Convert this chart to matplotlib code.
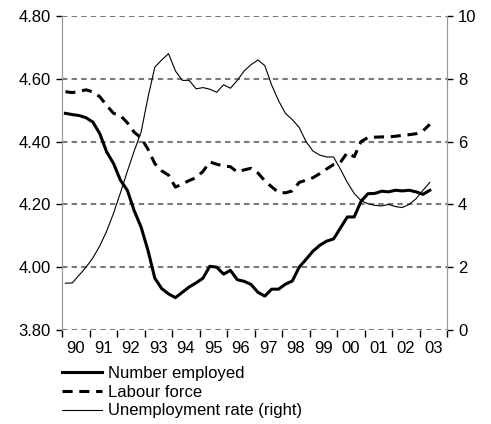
import matplotlib
matplotlib.use("Agg")
import matplotlib.pyplot as plt
import numpy as np

plt.rcParams["font.family"] = ["Liberation Sans", "DejaVu Sans"]

# quarterly data, 1990Q1 .. 2003Q2
employed = [4.490, 4.486, 4.483, 4.476, 4.462, 4.425, 4.367, 4.330, 4.277, 4.245,
            4.180, 4.128, 4.054, 3.965, 3.932, 3.915, 3.903, 3.920, 3.937, 3.950,
            3.965, 4.003, 4.000, 3.978, 3.990, 3.960, 3.955, 3.945, 3.920, 3.908,
            3.930, 3.930, 3.946, 3.956, 4.000, 4.025, 4.051, 4.070, 4.083, 4.090,
            4.125, 4.160, 4.160, 4.210, 4.234, 4.235, 4.242, 4.240, 4.245, 4.243,
            4.245, 4.240, 4.232, 4.245]
labour = [4.559, 4.556, 4.560, 4.565, 4.558, 4.543, 4.515, 4.490, 4.483, 4.460,
          4.430, 4.412, 4.376, 4.330, 4.307, 4.293, 4.255, 4.265, 4.276, 4.285,
          4.305, 4.335, 4.328, 4.322, 4.320, 4.303, 4.310, 4.315, 4.300, 4.275,
          4.256, 4.238, 4.237, 4.243, 4.270, 4.277, 4.285, 4.298, 4.313, 4.327,
          4.334, 4.365, 4.352, 4.400, 4.413, 4.414, 4.415, 4.415, 4.417, 4.420,
          4.422, 4.425, 4.434, 4.455]
unemp = [1.49, 1.50, 1.75, 2.00, 2.30, 2.68, 3.15, 3.72, 4.37, 5.05,
         5.70, 6.30, 7.40, 8.37, 8.60, 8.80, 8.25, 7.95, 7.95, 7.68,
         7.72, 7.67, 7.57, 7.81, 7.70, 7.95, 8.25, 8.45, 8.60, 8.42,
         7.80, 7.30, 6.90, 6.70, 6.45, 6.00, 5.70, 5.57, 5.51, 5.51,
         5.12, 4.70, 4.35, 4.12, 4.02, 3.97, 3.95, 4.00, 3.93, 3.90,
         4.00, 4.18, 4.45, 4.70]
years = list(range(1990, 2004))
year_labels = ["%02d" % (y % 100) for y in years]

x = 1990 + (np.arange(len(employed)) + 0.5) / 4

fig = plt.figure(figsize=(4.91, 4.24), dpi=100)
ax = fig.add_axes([62 / 491, 1 - 330 / 424, 385 / 491, 314 / 424])
ax2 = ax.twinx()

l1, = ax.plot(x, employed, color="black", lw=2.2, label="Number employed", zorder=3)
l2, = ax.plot(x, labour, color="black", lw=2.2, linestyle=(0, (3.3, 2.2)),
              label="Labour force", zorder=3)
l3, = ax2.plot(x, unemp, color="black", lw=0.8, label="Unemployment rate (right)")

ax.set_xlim(1990, 2004)
ax.set_ylim(3.8, 4.8)
ax2.set_ylim(0, 10)

ax.set_yticks(np.arange(3.8, 4.81, 0.2))
ax.set_yticklabels(["%.2f" % v for v in np.arange(3.8, 4.81, 0.2)])
ax2.set_yticks(range(0, 11, 2))

ax.set_xticks(years + [2004])
ax.set_xticklabels([])
ax.set_xticks(np.array(years) + 0.5, minor=True)
ax.set_xticklabels(year_labels, minor=True)
ax.tick_params(axis="x", which="major", length=5, width=1, color="black")
ax.tick_params(axis="x", which="minor", length=0, pad=8, labelsize=12)
ax.tick_params(axis="y", length=4, width=1, color="black", labelsize=12, pad=4)
ax2.tick_params(axis="y", length=4, width=1, color="black", labelsize=12, pad=4)

for a in (ax, ax2):
    a.spines["top"].set_visible(False)
    a.spines["bottom"].set_visible(False)
    a.spines["left"].set_color("#999999")
    a.spines["right"].set_color("#999999")

ax.grid(axis="y", color="#7a7a7a", lw=1.5, linestyle=(0, (2.6, 2)))
ax.set_axisbelow(True)

fig.legend(handles=[l1, l2, l3], loc="upper left",
           bbox_to_anchor=(62 / 491, 1 - 366 / 424), frameon=False,
           fontsize=12, handlelength=2.4, handletextpad=0.35,
           labelspacing=0.22, borderaxespad=0, borderpad=0)

fig.savefig("out.png", dpi=100)
